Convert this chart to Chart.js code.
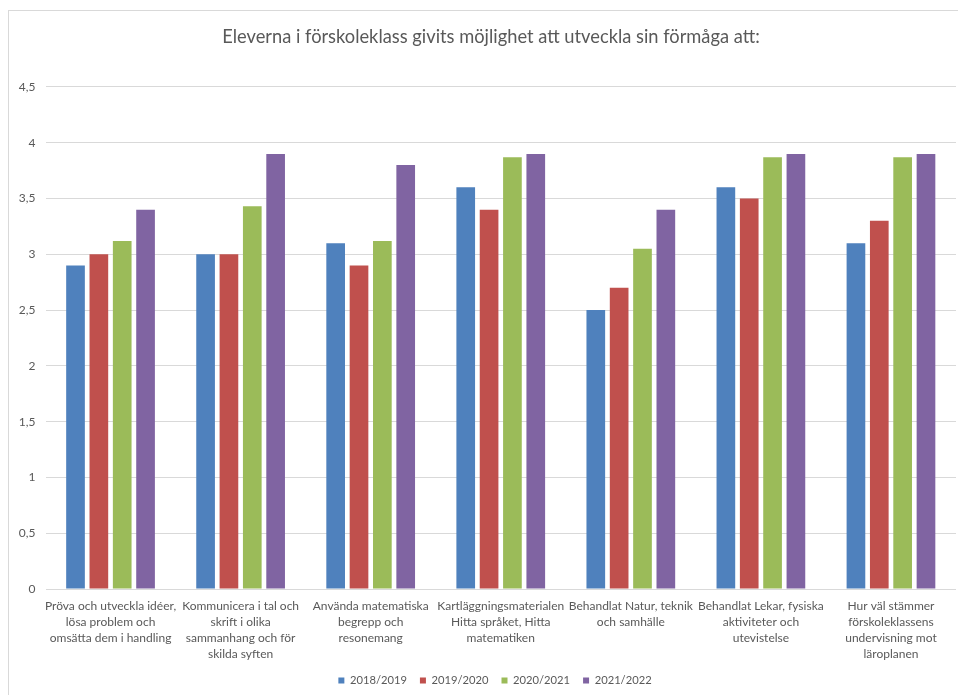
<!DOCTYPE html>
<html><head><meta charset="utf-8">
<script src="https://cdn.jsdelivr.net/npm/chart.js@4/dist/chart.umd.min.js"></script>
<style>html,body{margin:0;padding:0;background:#fff;}#wrap{width:958px;height:695px;position:relative;}</style>
</head><body><div id="wrap"><canvas id="c" width="958" height="695"></canvas></div>
<script>
const title = 'Eleverna i förskoleklass givits möjlighet att utveckla sin förmåga att:';
const categories = [
  ['Pröva och utveckla idéer,', 'lösa problem och', 'omsätta dem i handling'],
  ['Kommunicera i tal och', 'skrift i olika', 'sammanhang och för', 'skilda syften'],
  ['Använda matematiska', 'begrepp och', 'resonemang'],
  ['Kartläggningsmaterialen', 'Hitta språket, Hitta', 'matematiken'],
  ['Behandlat Natur, teknik', 'och samhälle'],
  ['Behandlat Lekar, fysiska', 'aktiviteter och', 'utevistelse'],
  ['Hur väl stämmer', 'förskoleklassens', 'undervisning mot', 'läroplanen']
];
const seriesNames = ['2018/2019', '2019/2020', '2020/2021', '2021/2022'];
const s2018 = [2.9, 3.0, 3.1, 3.6, 2.5, 3.6, 3.1];
const s2019 = [3.0, 3.0, 2.9, 3.4, 2.7, 3.5, 3.3];
const s2020 = [3.12, 3.43, 3.12, 3.87, 3.05, 3.87, 3.87];
const s2021 = [3.4, 3.9, 3.8, 3.9, 3.4, 3.9, 3.9];
const yTickLabels = ['0', '0,5', '1', '1,5', '2', '2,5', '3', '3,5', '4', '4,5'];

const colors = ['#4f81bd', '#c0504d', '#9bbb59', '#8064a2'];
const FONT = 'Lato, "Open Sans", sans-serif';
const TXT = '#595959';

const frame = {
  id: 'frame',
  afterLayout(chart) {
    // centre title and legend as in the original (whose frame extends past the right edge)
    if (chart.titleBlock) { chart.titleBlock.left = 26; }
    if (chart.legend) { chart.legend.left = 34; chart.legend.top += 1; chart.legend.bottom += 1; }
  },
  beforeDraw(chart) {
    const ctx = chart.ctx;
    ctx.save();
    ctx.fillStyle = '#fff';
    ctx.fillRect(0, 0, chart.width, chart.height);
    ctx.strokeStyle = '#d9d9d9';
    ctx.lineWidth = 1;
    ctx.strokeRect(8.5, 10.5, 1000, 1000);
    ctx.restore();
  }
};

const allSeries = [s2018, s2019, s2020, s2021];
new Chart(document.getElementById('c'), {
  type: 'bar',
  data: {
    labels: categories,
    datasets: allSeries.map((d, i) => ({
      label: seriesNames[i],
      data: d,
      backgroundColor: colors[i],
      borderWidth: 0,
      categoryPercentage: 0.718,
      barPercentage: 0.8
    }))
  },
  plugins: [frame],
  options: {
    responsive: false,
    animation: false,
    layout: { padding: { left: 0, right: 2, top: 0, bottom: 0 } },
    plugins: {
      title: {
        display: true,
        text: title,
        color: TXT,
        font: { family: FONT, size: 18.3, weight: 'normal' },
        padding: { top: 26, bottom: 39 }
      },
      legend: {
        position: 'bottom',
        labels: {
          color: TXT,
          font: { family: FONT, size: 11.2 },
          boxWidth: 6,
          boxHeight: 6,
          padding: 13
        }
      },
      tooltip: { enabled: false }
    },
    scales: {
      x: {
        grid: { display: false, drawTicks: false },
        border: { display: false },
        ticks: {
          color: TXT,
          font: { family: FONT, size: 12, lineHeight: 1.34 },
          maxRotation: 0,
          autoSkip: false,
          padding: 9
        },
        afterFit(scale) { scale.height = 71.8; }
      },
      y: {
        min: 0,
        max: 4.5,
        grid: { color: '#d9d9d9', drawTicks: false, lineWidth: 1 },
        border: { display: false },
        ticks: {
          stepSize: 0.5,
          color: TXT,
          font: { family: FONT, size: 12 },
          padding: 10,
          callback: (v, i) => yTickLabels[i]
        },
        afterFit(scale) { scale.width = 45.5; }
      }
    }
  }
});
</script></body></html>
